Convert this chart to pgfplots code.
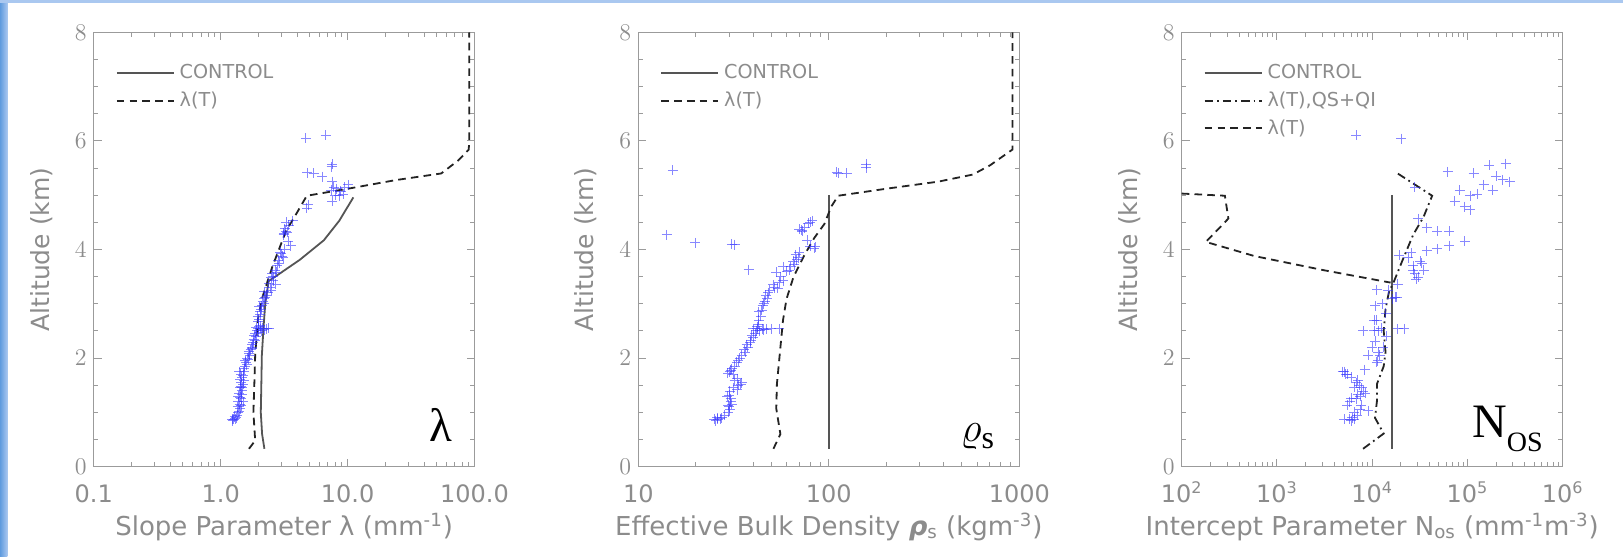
\documentclass[border=0pt]{standalone}
\usepackage{fontspec}
\setmainfont{DejaVu Sans}
\newfontfamily\seriffont{Liberation Serif}
\usepackage{pgfplots}
\pgfplotsset{compat=1.18}
\definecolor{txtgray}{RGB}{140,140,140}
\definecolor{axgray}{RGB}{155,155,155}
\definecolor{ctrl}{RGB}{85,85,85}
\definecolor{lamc}{RGB}{35,35,35}
\definecolor{obs}{RGB}{50,50,255}
\definecolor{slideblue}{RGB}{95,155,222}
\definecolor{slidelight}{RGB}{170,200,240}

\pgfplotsset{
  panel/.style={
    scale only axis, height=217.2pt,
    ymin=0, ymax=8, ytick={0,2,4,6,8}, minor y tick num=3,
    axis line style={axgray, line width=0.6pt},
    tick style={axgray, line width=0.5pt},
    major tick length=4pt, minor tick length=2.2pt,
    tick align=inside,
    font=\fontsize{12}{14.4}\selectfont,
    tick label style={text=txtgray},
    xticklabel style={anchor=base, yshift=-17.9pt},
    every axis x label/.style={at={(axis description cs:0.5,0)}, anchor=base, yshift=-34.2pt,
      text=txtgray, font=\fontsize{13}{15.6}\selectfont},
    every axis y label/.style={at={(axis description cs:-0.1376,0.5)}, rotate=90, anchor=center,
      text=txtgray, font=\fontsize{12.5}{15}\selectfont},
    ylabel={Altitude (km)},
    legend style={draw=none, fill=none, inner sep=0pt, outer sep=0pt,
      at={(axis description cs:0.058,0.93)}, anchor=north west,
      font=\fontsize{9.6}{11.5}\selectfont, text=txtgray, row sep=3pt, legend cell align=left,
      nodes={inner sep=1pt},
      /tikz/every odd column/.append style={column sep=1.5pt}},
    legend image code/.code={\draw[##1] (0pt,0pt) -- (28.5pt,0pt);},
  },
  obsmark/.style={only marks, mark=+, mark size=2.5pt, draw=obs, draw opacity=0.58, line width=0.5pt, forget plot},
  ctrlline/.style={ctrl, line width=0.9pt, no marks},
  dashline/.style={lamc, line width=0.9pt, no marks, dash pattern=on 3.8pt off 2.6pt},
  dotdashline/.style={lamc, line width=0.9pt, no marks, dash pattern=on 4.2pt off 2pt on 0.9pt off 2pt},
}

\begin{document}
\begin{tikzpicture}
\path[use as bounding box] (0pt,0pt) rectangle (811.5pt,278.5pt);
\fill[white] (0pt,0pt) rectangle (811.5pt,278.5pt);
\shade[left color=slideblue, right color=slidelight] (0pt,0pt) rectangle (3.7pt,278.5pt);
\fill[slidelight] (0pt,277.2pt) rectangle (811.5pt,278.5pt);

% ---------- Panel 1 ----------
\begin{axis}[panel, at={(46.9pt,45.15pt)}, anchor=south west, width=190.35pt,
  xmode=log, xmin=0.1, xmax=100,
  xtick={0.1,1,10,100}, xticklabels={0.1,1.0,10.0,100.0},
  minor xtick={0.2,0.3,0.4,0.5,0.6,0.7,0.8,0.9,2,3,4,5,6,7,8,9,20,30,40,50,60,70,80,90},
  xlabel={Slope Parameter λ (mm\textsuperscript{-1})}]
\addplot[obsmark] coordinates {
(1.23,0.87)(1.27,0.87)(1.30,0.88)(1.29,0.92)(1.38,1.0)(1.42,1.07)(1.45,1.12)(1.37,1.20)(1.51,1.20)
(1.43,1.28)(1.40,1.35)(1.47,1.40)(1.44,1.48)(1.50,1.52)(1.42,1.60)(1.47,1.65)(1.40,1.75)(1.52,1.75)
(1.55,1.85)(1.58,1.92)(1.62,2.0)(1.70,2.05)(1.66,2.12)(1.75,2.2)(1.80,2.28)(1.87,2.33)(1.84,2.42)
(1.93,2.50)(1.97,2.54)(2.05,2.54)(2.15,2.55)(2.3,2.54)(2.4,2.55)(2.05,2.60)(1.98,2.68)(1.95,2.77)
(2.05,2.85)(2.02,2.95)(2.11,2.96)(2.15,3.05)(2.25,3.12)(2.3,3.16)(2.2,3.22)(2.45,3.30)(2.72,3.36)
(2.6,3.42)(2.5,3.48)(2.55,3.55)(2.7,3.62)(2.8,3.70)(2.89,3.75)(3.05,3.88)(2.95,3.95)(3.2,4.0)
(3.57,4.07)(3.4,4.15)(3.13,4.27)(3.27,4.34)(3.2,4.38)(3.45,4.45)(3.71,4.53)(4.77,4.76)(4.9,4.82)
(7.6,4.89)(8.6,4.99)(9.2,5.02)(7.4,5.09)(8.2,5.12)(10.1,5.19)(9.5,5.15)(7.6,5.25)(6.3,5.34)
(5.39,5.40)(4.82,5.41)(7.6,5.57)(7.5,5.52)(4.70,6.05)(6.72,6.10)
(1.25,0.85)(1.33,0.9)(1.35,0.95)(1.40,1.02)(1.36,1.1)(1.41,1.15)(1.45,1.25)(1.38,1.3)(1.46,1.33)
(1.42,1.45)(1.48,1.45)(1.45,1.55)(1.52,1.58)(1.44,1.7)(1.5,1.68)(1.53,1.8)(1.6,1.88)(1.56,1.95)
(1.65,1.98)(1.68,2.08)(1.72,2.15)(1.78,2.18)(1.77,2.25)(1.82,2.35)(1.9,2.4)(1.88,2.46)(1.99,2.48)
(2.1,2.5)(2.2,2.52)(1.9,2.56)(2.0,2.58)(2.0,2.72)(2.05,2.8)(2.08,2.9)(2.18,3.0)(2.2,3.1)(2.35,3.2)
(2.5,3.25)(2.4,3.38)(2.6,3.5)(2.75,3.58)(2.85,3.8)(3.0,3.92)(3.1,3.85)(3.15,4.3)(3.35,4.32)
(3.3,4.5)(8.0,5.0)(8.8,5.07)(7.8,5.15)};
\addplot[ctrlline] coordinates {
(2.21,0.33)(2.12,0.6)(2.07,1.0)(2.09,1.5)(2.11,2.05)(2.18,2.6)(2.25,3.03)(2.39,3.42)(2.89,3.55)
(4.2,3.81)(6.5,4.17)(8.6,4.53)(11.1,4.96)};
\addlegendentry{CONTROL}
\addplot[dashline] coordinates {
(1.67,0.33)(1.87,0.48)(1.81,1.0)(1.84,1.5)(1.87,2.05)(1.96,2.7)(2.11,3.09)(2.55,3.68)(3.27,4.34)
(3.95,4.66)(4.77,4.99)(10.1,5.12)(24.2,5.28)(54.6,5.40)(74.5,5.64)(90,5.84)(91,6.0)(91,8.0)};
\addlegendentry{λ(T)}
\node[font=\seriffont\fontsize{23.5}{25}\selectfont] at (axis description cs:0.912,0.097) {λ};
\end{axis}

% ---------- Panel 2 ----------
\begin{axis}[panel, at={(319.15pt,45.15pt)}, anchor=south west, width=190.5pt,
  xmode=log, xmin=10, xmax=1000,
  xtick={10,100,1000}, xticklabels={10,100,1000},
  minor xtick={20,30,40,50,60,70,80,90,200,300,400,500,600,700,800,900},
  xlabel={Effective Bulk Density \textbf{\textit{ρ}}\textsubscript{s} (kgm\textsuperscript{-3})}]
\addplot[obsmark] coordinates {
(25,0.87)(26.1,0.87)(27,0.88)(26,0.9)(29.6,1.0)(30.2,1.05)(29.6,1.13)(30.5,1.2)(29.3,1.3)(30.2,1.39)
(33.5,1.5)(32,1.59)(35,1.55)(30.2,1.75)(29.5,1.72)(31,1.8)(32.8,1.92)(34,2.0)(36.4,2.11)(37.5,2.2)
(38.7,2.28)(40,2.38)(41,2.45)(40,2.54)(42,2.54)(44.9,2.54)(47,2.53)(50,2.54)(55,2.54)(43,2.62)
(44,2.77)(43,2.85)(44.9,2.96)(46,3.05)(46.8,3.16)(48,3.2)(54,3.29)(51,3.35)(57.5,3.42)(53,3.58)
(57.5,3.68)(62,3.62)(66,3.72)(68,3.81)(67,3.9)(70,3.95)(83.8,4.02)(80,4.06)(77,4.17)(72.4,4.34)
(70,4.37)(82,4.53)(80,4.5)(37.9,3.63)(32.1,4.09)(31,4.1)(19.9,4.12)(14.1,4.27)(15.2,5.46)
(112,5.40)(124,5.40)(157,5.57)(157,5.51)(110,5.42)
(25.5,0.85)(27.5,0.9)(28.5,0.95)(30,1.1)(31,1.15)(30.5,1.25)(30,1.32)(31.5,1.45)(33,1.42)(34.5,1.52)
(33,1.62)(31.5,1.7)(30.5,1.78)(32,1.85)(33.5,1.95)(35,2.05)(36,2.15)(37,2.25)(39,2.32)(39.5,2.42)
(41.5,2.5)(43.5,2.5)(45.5,2.52)(42,2.58)(43,2.7)(44.5,2.88)(45.5,3.0)(47.5,3.1)(49,3.25)(52,3.3)
(55,3.4)(56,3.5)(60,3.6)(63,3.68)(65,3.78)(69,3.85)(72,4.35)(75,4.4)(78,4.48)(85,4.05)};
\addplot[ctrlline] coordinates {(100,0.33)(100,5.0)};
\addlegendentry{CONTROL}
\addplot[dashline] coordinates {
(51.2,0.33)(55.7,0.6)(53,1.07)(53.4,1.52)(55.2,2.05)(57.5,2.7)(60,3.09)(65.2,3.49)(74,3.88)
(83.8,4.21)(94.8,4.47)(103,4.79)(112,4.99)(201,5.12)(376,5.25)(570,5.38)(702,5.55)(920,5.84)
(920,6.0)(920,8)};
\addlegendentry{λ(T)}
\node[font=\fontsize{22}{24}\selectfont] at (axis description cs:0.89,0.07) {$\varrho$\raisebox{-0.3ex}{\seriffont\fontsize{16}{16}\selectfont s}};
\end{axis}

% ---------- Panel 3 ----------
\begin{axis}[panel, at={(590.85pt,45.15pt)}, anchor=south west, width=190.5pt,
  xmode=log, xmin=100, xmax=1000000,
  xtick={100,1000,10000,100000,1000000},
  xticklabels={10\textsuperscript{2},10\textsuperscript{3},10\textsuperscript{4},10\textsuperscript{5},10\textsuperscript{6}},
  minor xtick={200,300,400,500,600,700,800,900,2000,3000,4000,5000,6000,7000,8000,9000,
    20000,30000,40000,50000,60000,70000,80000,90000,200000,300000,400000,500000,600000,700000,800000,900000},
  xlabel={Intercept Parameter N\textsubscript{os} (mm\textsuperscript{-1}m\textsuperscript{-3})}]
\addplot[obsmark] coordinates {
(6780,6.10)(20100,6.04)(61900,5.43)(116000,5.40)(169000,5.55)(252000,5.58)(200000,5.35)(279000,5.25)
(236000,5.28)(149000,5.19)(184000,5.09)(126000,5.02)(107000,4.99)(83000,5.09)(73300,4.89)(94200,4.79)
(107000,4.73)(28000,5.15)(30500,4.57)(37600,4.40)(48300,4.34)(64700,4.34)(94200,4.15)(64700,4.07)
(48300,4.01)(37600,3.98)(19300,3.89)(25800,3.94)(31800,3.78)(34600,3.62)(26900,3.62)(30500,3.49)
(28000,3.55)(18500,3.36)(11200,3.26)(16300,3.09)(17500,3.12)(10700,2.96)(13800,2.83)(11200,2.70)
(8020,2.50)(11600,2.50)(18500,2.54)(21800,2.54)(10700,2.31)(11600,2.11)(9080,2.05)(11200,1.92)
(13000,2.2)(8350,1.79)(5070,1.75)(5500,1.70)(5990,1.65)(7080,1.59)(6500,1.46)(8020,1.39)(7080,1.33)
(5990,1.26)(5500,1.13)(7690,1.13)(9080,1.03)(6500,1.0)(5070,0.87)(6500,0.87)(6000,0.85)
(5800,0.87)(6200,0.9)(7000,0.95)(7500,1.05)(5800,1.2)(6800,1.25)(7500,1.3)(8500,1.35)(7800,1.45)
(5300,1.7)(4900,1.75)(6800,1.55)(7300,1.5)(10500,2.5)(12500,2.55)(14000,2.4)(10000,2.2)(11500,1.95)
(12000,2.05)(10500,2.7)(12800,3.0)(14800,3.25)(18000,3.12)(24000,3.85)(27000,3.7)(29000,3.45)(33000,3.75)};
\addplot[ctrlline] coordinates {(16000,0.33)(16000,5.0)};
\addlegendentry{CONTROL}
\addplot[dotdashline] coordinates {
(8020,0.33)(13200,0.61)(10700,0.90)(11200,1.20)(11200,1.52)(13200,1.85)(13800,2.11)(13200,2.50)
(13800,2.90)(15000,3.22)(17000,3.42)(20900,3.81)(26900,4.27)(34600,4.60)(42600,4.99)(18500,5.40)};
\addlegendentry{λ(T),QS+QI}
\addplot[dashline] coordinates {
(100,5.03)(284,4.99)(309,4.57)(212,4.27)(179,4.14)(578,3.88)(3070,3.62)(15600,3.39)};
\addlegendentry{λ(T)}
\node[font=\seriffont\fontsize{24}{26}\selectfont] at (axis description cs:0.855,0.087) {N\raisebox{-7pt}{\fontsize{14}{14}\selectfont OS}};
\end{axis}
\end{tikzpicture}
\end{document}
